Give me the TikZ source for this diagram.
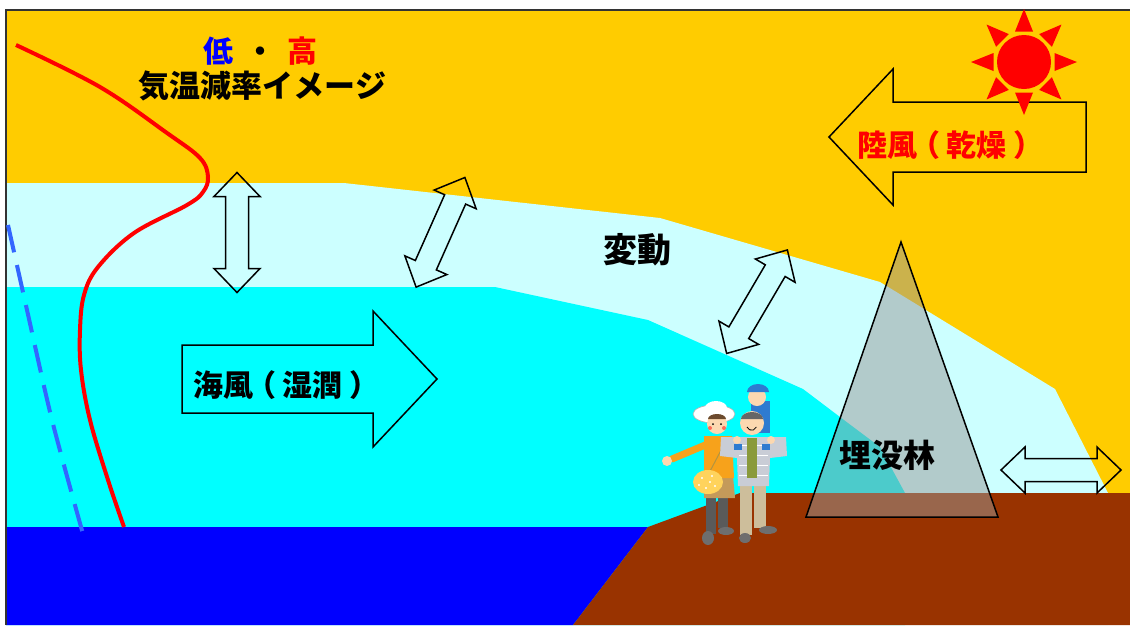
\documentclass[tikz,border=0pt]{standalone}
\usepackage{fontspec}
\newfontfamily\jp{Noto Sans CJK JP}[Kerning=Off]
\usetikzlibrary{arrows.meta}
\definecolor{skyColor}{HTML}{FFCC00}
\definecolor{airColor}{HTML}{CCFFFF}
\definecolor{seaAirColor}{HTML}{00FFFF}
\definecolor{seaColor}{HTML}{0000FF}
\definecolor{groundColor}{HTML}{993300}
\definecolor{rateColor}{HTML}{3366FF}
\definecolor{forestColor}{HTML}{999999}
\definecolor{skinColor}{HTML}{FCD8B0}
\definecolor{topColor}{HTML}{F7A21B}
\definecolor{bagColor}{HTML}{FFD35C}
\definecolor{skirtColor}{HTML}{C49A5A}
\definecolor{legColor}{HTML}{5A5A5A}
\definecolor{shoeColor}{HTML}{6E6E6E}
\definecolor{pantsColor}{HTML}{CDBE9B}
\definecolor{jacketColor}{HTML}{C9CDD6}
\definecolor{shirtColor}{HTML}{8A9A3A}
\definecolor{capColor}{HTML}{2E7BD0}
\definecolor{hairColor}{HTML}{6B4A2E}
\newcommand{\fsz}[1]{\fontsize{#1}{#1}\selectfont}
% brackets centred in their full-width cell
\newcommand{\lpar}{\makebox[1em][l]{\hspace{-0.22em}（}}
\newcommand{\rpar}{\makebox[1em][r]{）\hspace{-0.22em}}}
\tikzset{
	dbl arrow/.pic={\draw[line width=1.5pt,line join=miter] (-60,0) -- (-36,23) -- (-36,11.5) -- (36,11.5)
		-- (36,23) -- (60,0) -- (36,-23) -- (36,-11.5) -- (-36,-11.5) -- (-36,-23) -- cycle;},
	lbl/.style={font=\jp\bfseries\fsz{30}, inner sep=0pt},
	wind/.style={line width=1.5pt, line join=miter}
}

\begin{document}
\begin{tikzpicture}[x=1pt,y=-1pt]
	\useasboundingbox (0,0) rectangle (1130,625);
	% layers of air, sea and land
	\fill[skyColor] (6,10) rectangle (1130,625);
	\fill[airColor] (6,183) -- (344,183) -- (660,218) -- (880,282) -- (1055,389) -- (1108,493)
		-- (1108,625) -- (6,625) -- cycle;
	\fill[seaAirColor] (6,287) -- (495,287) -- (648,320) -- (803,389) -- (840,417) -- (880,447)
		-- (905,493) -- (905,625) -- (6,625) -- cycle;
	\fill[seaColor] (6,527) -- (648,527) -- (573,625) -- (6,625) -- cycle;
	\fill[groundColor] (648,527) -- (740,493) -- (1130,493) -- (1130,625) -- (573,625) -- cycle;
	\draw[black!80, line width=1.5pt] (6,625) -- (6,10) -- (1130,10);
	
	% lapse rate curves
	\draw[rateColor, line width=4pt, dash pattern=on 28pt off 13pt] plot[smooth] coordinates
		{(8,225) (27,310) (52,420) (83,534)};
	\draw[red, line width=4pt] plot[smooth, tension=0.6] coordinates {(16,45) (100,87) (167,133)
		(200,158) (208,177) (203,192) (187,205) (134,233) (98,267) (84,295) (80,330) (81,370)
		(90,420) (108,480) (124,527)};
	
	% winds
	\draw[wind] (182,345) -- (373,345) -- (373,311) -- (437,379) -- (373,447) -- (373,413) -- (182,413) -- cycle;
	\draw[wind] (1086,102) -- (893,102) -- (893,69) -- (829,137) -- (893,205) -- (893,172) -- (1086,172) -- cycle;
	\pic[rotate=90] at (237,232.5) {dbl arrow};
	\pic[rotate=66] at (440.5,232.3) {dbl arrow};
	\pic[rotate=59.6] at (757,301.7) {dbl arrow};
	\pic at (1061,470) {dbl arrow};
	
	% sun
	\begin{scope}[shift={(1024,62)}]
		\fill[red] (0,0) circle (27pt);
		\foreach \a in {0,45,...,315}
			\fill[red, rotate=\a] (30.5,-9) -- (53,0) -- (30.5,9) -- cycle;
	\end{scope}
	
	% buried forest
	\draw[line width=1.5pt, fill=forestColor, fill opacity=0.5, line join=miter] (901,242) -- (998,517) -- (806,517) -- cycle;
	
	% family: woman
	\fill[legColor] (706,496) rectangle (716,534);
	\fill[legColor] (718,496) rectangle (728,528);
	\fill[shoeColor] (708,538) ellipse (6pt and 7pt);
	\fill[shoeColor] (726,531) ellipse (8pt and 4pt);
	\fill[skirtColor] (705,476) -- (733,476) -- (735,498) -- (704,498) -- cycle;
	\draw[topColor, line width=7pt, line cap=round] (710,443) -- (672,459);
	\fill[skinColor] (667,461) circle (5pt);
	\fill[topColor] (704,436) -- (732,436) -- (734,478) -- (704,478) -- cycle;
	\draw[bagColor!70!black, line width=1pt] (728,437) -- (708,475);
	\fill[bagColor] (708,482) ellipse (15pt and 12pt);
	\foreach \p in {(702,478),(712,476),(706,488),(715,486),(699,485),(710,482)}
		\fill[white] \p circle (1.2pt);
	\fill[white, draw=black!30, line width=0.6pt] (714,414) ellipse (21pt and 9pt);
	\fill[white] (716,408) ellipse (11pt and 7pt);
	\fill[skinColor] (717,424) circle (10pt);
	\fill[hairColor] (708,419) arc (180:360:9pt and -5pt) -- cycle;
	\fill (713,424) circle (1pt) (721,424) circle (1pt);
	\fill[red!50!skinColor] (710,428) circle (2pt) (724,428) circle (2pt);
	
	% family: child on the man's shoulders
	\fill[capColor] (751,401) rectangle (770,433);
	\fill[skinColor] (757,397) circle (9pt);
	\fill[capColor] (747,392) arc (180:360:11pt and -8pt) -- cycle;
	
	% family: man
	\fill[pantsColor] (740,483) rectangle (752,535);
	\fill[pantsColor] (754,483) rectangle (766,528);
	\fill[shoeColor] (745,538) ellipse (6pt and 5pt);
	\fill[shoeColor] (768,530) ellipse (9pt and 4pt);
	\fill[jacketColor] (721,437) -- (786,437) -- (787,456) -- (770,458) -- (769,486) -- (738,486)
		-- (737,458) -- (720,456) -- cycle;
	\foreach \y in {445,455,465,475}
		\draw[white, line width=0.8pt] (739,\y) -- (768,\y);
	\fill[shirtColor] (747,438) rectangle (757,478);
	\fill[skinColor] (752,423) circle (12pt);
	\fill[black!60] (741,419) arc (180:360:11pt and -7pt) -- cycle;
	\draw[line width=0.8pt] (747,427) arc (200:340:5pt);
	\fill[skinColor] (737,440) circle (4pt) (771,440) circle (4pt);
	\fill[capColor] (734,444) rectangle (742,450);
	\fill[capColor] (762,444) rectangle (770,450);
	
	% labels
	\node[lbl] (lowhigh) at (260,51) {{\color{seaColor}低}\hspace{12pt}・\hspace{12pt}{\color{red}高}};
	\node[lbl, font=\jp\bfseries\fsz{31}] (lapse) at (262,86) {気温減率イメージ};
	\node[lbl, text=red] (landwind) at (947,145) {陸風\lpar 乾燥\rpar};
	\node[lbl, font=\jp\bfseries\fsz{34}] (change) at (637,250) {変動};
	\node[lbl] (seawind) at (283,385) {海風\lpar 湿潤\rpar};
	\node[lbl, font=\jp\bfseries\fsz{32}] (forest) at (887,455) {埋没林};
\end{tikzpicture}
\end{document}
